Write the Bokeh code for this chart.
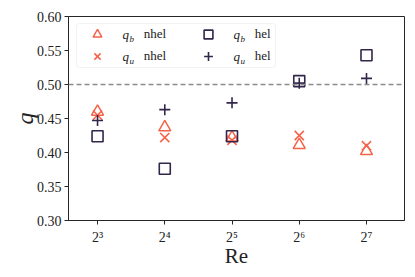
from bokeh.plotting import figure
from bokeh.models import (Span, Legend, LegendItem, FixedTicker, Label,
                          NumeralTickFormatter, Range1d, BoxAnnotation)
from bokeh.embed import file_html
from bokeh.resources import INLINE

# ---- data ----
re_vals = [8, 16, 32, 64, 128]
re_tick_labels = ["2³", "2⁴", "2⁵", "2⁶", "2⁷"]
qb_nhel = [0.460, 0.437, 0.422, 0.411, 0.402]
qu_nhel = [0.455, 0.422, 0.418, 0.425, 0.410]
qb_hel = [0.424, 0.376, 0.424, 0.505, 0.543]
qu_hel = [0.447, 0.463, 0.473, 0.502, 0.509]
y_ticks = [0.30, 0.35, 0.40, 0.45, 0.50, 0.55, 0.60]
ref_level = 0.5

ORANGE = "#f5644a"
NAVY = "#32264b"
FONT = "Liberation Serif"
TXT = "#222222"

p = figure(width=408, height=275, x_axis_type="log",
           x_range=Range1d(5.93, 189.4), y_range=Range1d(0.30, 0.60),
           output_backend="svg", toolbar_location=None,
           min_border_left=68, min_border_right=4, min_border_top=16,
           min_border_bottom=55)
p.grid.visible = False
p.outline_line_color = "#262626"
p.outline_line_width = 1
p.background_fill_color = "white"
p.border_fill_color = "white"

p.add_layout(Span(location=ref_level, dimension="width", line_color="#8c8c8c",
                  line_dash="5 3", line_width=1.3))

r1 = p.scatter(re_vals, qb_nhel, marker="triangle", size=12, fill_color=None,
               line_color=ORANGE, line_width=1.5)
r2 = p.scatter(re_vals, qu_nhel, marker="x", size=13, line_color=ORANGE,
               line_width=1.6)
r3 = p.scatter(re_vals, qb_hel, marker="square", size=11, fill_color=None,
               line_color=NAVY, line_width=1.6)
r4 = p.scatter(re_vals, qu_hel, marker="cross", size=11, line_color=NAVY,
               line_width=1.6)

# legend frame
p.add_layout(BoxAnnotation(left=8, right=207, bottom=153, top=197,
                           left_units="screen", right_units="screen",
                           bottom_units="screen", top_units="screen",
                           fill_color="white", fill_alpha=0.85,
                           line_color="#d6d6d6", line_width=1,
                           border_radius=3, level="overlay"))

pad = "\u00a0" * 7
common = dict(padding=0, spacing=0, glyph_width=36, glyph_height=22,
              label_height=22, label_standoff=6, label_width=30,
              label_text_font=FONT, label_text_font_size="13px",
              label_text_color=TXT, border_line_color=None,
              background_fill_alpha=0.0, margin=0)
leg_a = Legend(items=[LegendItem(label=pad + "nhel", renderers=[r1]),
                      LegendItem(label=pad + "nhel", renderers=[r2])],
               location=(11, 153), **common)
leg_b = Legend(items=[LegendItem(label=pad + "hel", renderers=[r3]),
                      LegendItem(label=pad + "hel", renderers=[r4])],
               location=(122, 153), **common)
p.add_layout(leg_a)
p.add_layout(leg_b)

# italic q with subscripts in the legend labels
for (lx, ly, sub) in [(54, 186, "b"), (54, 164, "u"), (165, 186, "b"), (165, 164, "u")]:
    p.add_layout(Label(x=lx, y=ly, x_units="screen", y_units="screen", text="q",
                       text_font=FONT, text_font_style="italic",
                       text_font_size="13px", text_baseline="middle",
                       text_color=TXT, level="overlay"))
    p.add_layout(Label(x=lx + 7, y=ly - 4, x_units="screen", y_units="screen",
                       text=sub, text_font=FONT, text_font_style="italic",
                       text_font_size="9px", text_baseline="middle",
                       text_color=TXT, level="overlay"))

# axes
p.xaxis.ticker = FixedTicker(ticks=re_vals, minor_ticks=[])
p.xaxis.major_label_overrides = {v: l for v, l in zip(re_vals, re_tick_labels)}
p.yaxis.ticker = FixedTicker(ticks=y_ticks, minor_ticks=[])
p.yaxis.formatter = NumeralTickFormatter(format="0.00")
for ax in (p.xaxis, p.yaxis):
    ax.axis_line_color = "#262626"
    ax.major_tick_line_color = "#262626"
    ax.major_tick_out = 4
    ax.major_tick_in = 0
    ax.minor_tick_line_color = None
    ax.major_label_text_font = FONT
    ax.major_label_text_font_size = "14px"
    ax.major_label_text_color = TXT
    ax.axis_label_text_font = FONT
    ax.axis_label_text_font_style = "normal"
    ax.axis_label_text_color = TXT
    ax.axis_label_text_font_size = "21px"
p.xaxis.axis_label = "Re"
p.yaxis.axis_label = "q"
p.yaxis.axis_label_text_font_style = "italic"
p.yaxis.axis_label_text_font_size = "24px"
p.xaxis.major_label_standoff = 5
p.yaxis.major_label_standoff = 3
p.xaxis.axis_label_standoff = -4
p.yaxis.axis_label_standoff = -4

open("out.html", "w").write(file_html(p, INLINE))
